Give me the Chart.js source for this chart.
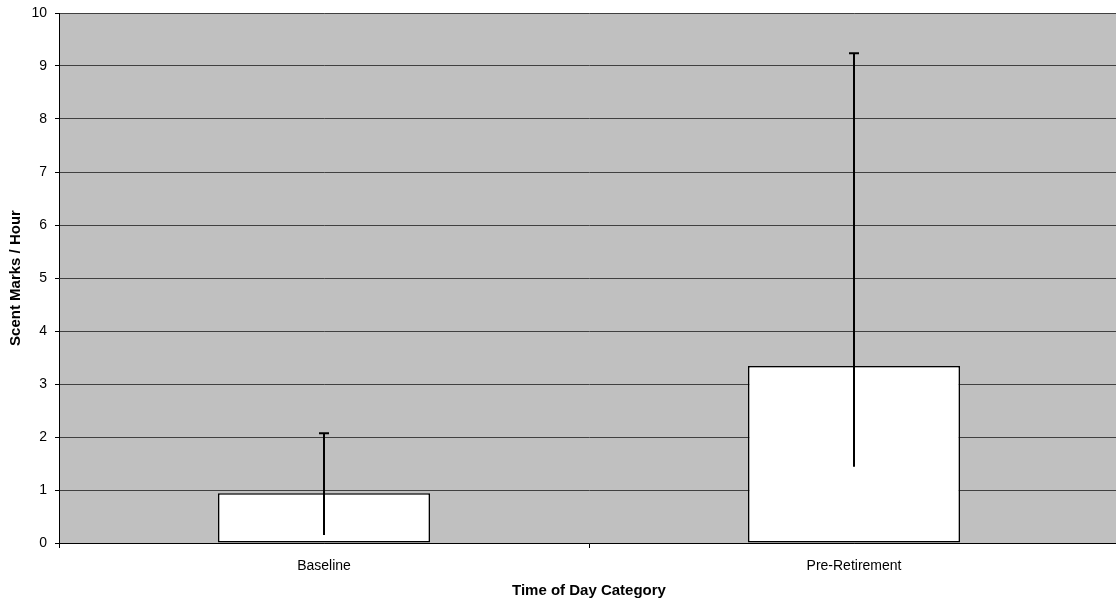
<!DOCTYPE html>
<html>
<head>
<meta charset="utf-8">
<script src="https://cdn.jsdelivr.net/npm/chart.js@4/dist/chart.umd.min.js"></script>
<style>
  html, body { margin: 0; padding: 0; background: #fff; }
  #wrap { width: 1116px; height: 605px; overflow: hidden; }
</style>
</head>
<body>
<div id="wrap"><canvas id="scentChart" width="1119" height="605"></canvas></div>
<script>
// categories and values
const categories = ["Baseline", "Pre-Retirement"];
const meanMarks = [0.94, 3.34];
const errLow = [0.15, 1.44];
const errHigh = [2.07, 9.24];

// grey plot area like the old Excel charts
const plotBackground = {
    id: 'plotBackground',
    beforeDraw(chart) {
        const a = chart.chartArea;
        const ctx = chart.ctx;
        ctx.save();
        ctx.fillStyle = '#C0C0C0';
        ctx.fillRect(a.left, a.top, a.right - a.left, a.bottom - a.top);
        ctx.restore();
    }
};

// error bars, cap only at the top
const errorBars = {
    id: 'errorBars',
    afterDatasetsDraw(chart) {
        const ctx = chart.ctx;
        const yScale = chart.scales.y;
        const meta = chart.getDatasetMeta(0);
        ctx.save();
        ctx.strokeStyle = '#000';
        ctx.lineWidth = 2;
        meta.data.forEach((bar, i) => {
            const x = Math.round(bar.x);
            const yTop = yScale.getPixelForValue(errHigh[i]);
            const yBot = yScale.getPixelForValue(errLow[i]);
            ctx.beginPath();
            ctx.moveTo(x, yBot);
            ctx.lineTo(x, yTop);
            ctx.moveTo(x - 5, yTop);
            ctx.lineTo(x + 5, yTop);
            ctx.stroke();
        });
        ctx.restore();
    }
};

new Chart(document.getElementById("scentChart"), {
    type: "bar",
    data: {
        labels: categories,
        datasets: [{
            data: meanMarks,
            backgroundColor: "#FFFFFF",
            borderColor: "#000000",
            borderWidth: 1.5,
            borderSkipped: false,
            barPercentage: 1,
            categoryPercentage: 0.4
        }]
    },
    options: {
        responsive: false,
        animation: false,
        layout: { padding: { top: 13, right: 0, bottom: 0, left: 0 } },
        plugins: {
            legend: { display: false },
            tooltip: { enabled: false }
        },
        scales: {
            x: {
                afterFit: s => { s.height = 62; },
                grid: {
                    drawOnChartArea: false,
                    drawTicks: true,
                    tickLength: 5,
                    tickColor: '#000'
                },
                border: { color: '#000', width: 1 },
                ticks: {
                    color: '#000',
                    padding: 10,
                    font: { family: 'Liberation Sans, Arial', size: 14 }
                },
                title: {
                    display: true,
                    text: "Time of Day Category",
                    color: '#000',
                    padding: { top: 5, bottom: 5 },
                    font: { family: 'Liberation Sans, Arial', size: 15, weight: 'bold' }
                }
            },
            y: {
                min: 0,
                max: 10,
                afterFit: s => {
                    s.width = 59;
                    s.paddingTop = 0;
                    s.paddingBottom = 0;
                },
                grid: {
                    color: '#404040',
                    lineWidth: 1,
                    tickLength: 4,
                    tickColor: '#000'
                },
                border: { color: '#000', width: 1 },
                ticks: {
                    stepSize: 1,
                    color: '#000',
                    padding: 8,
                    font: { family: 'Liberation Sans, Arial', size: 14 }
                },
                title: {
                    display: true,
                    text: "Scent Marks / Hour",
                    color: '#000',
                    padding: { top: 7, bottom: 0 },
                    font: { family: 'Liberation Sans, Arial', size: 15, weight: 'bold' }
                }
            }
        }
    },
    plugins: [plotBackground, errorBars]
});
</script>
</body>
</html>
